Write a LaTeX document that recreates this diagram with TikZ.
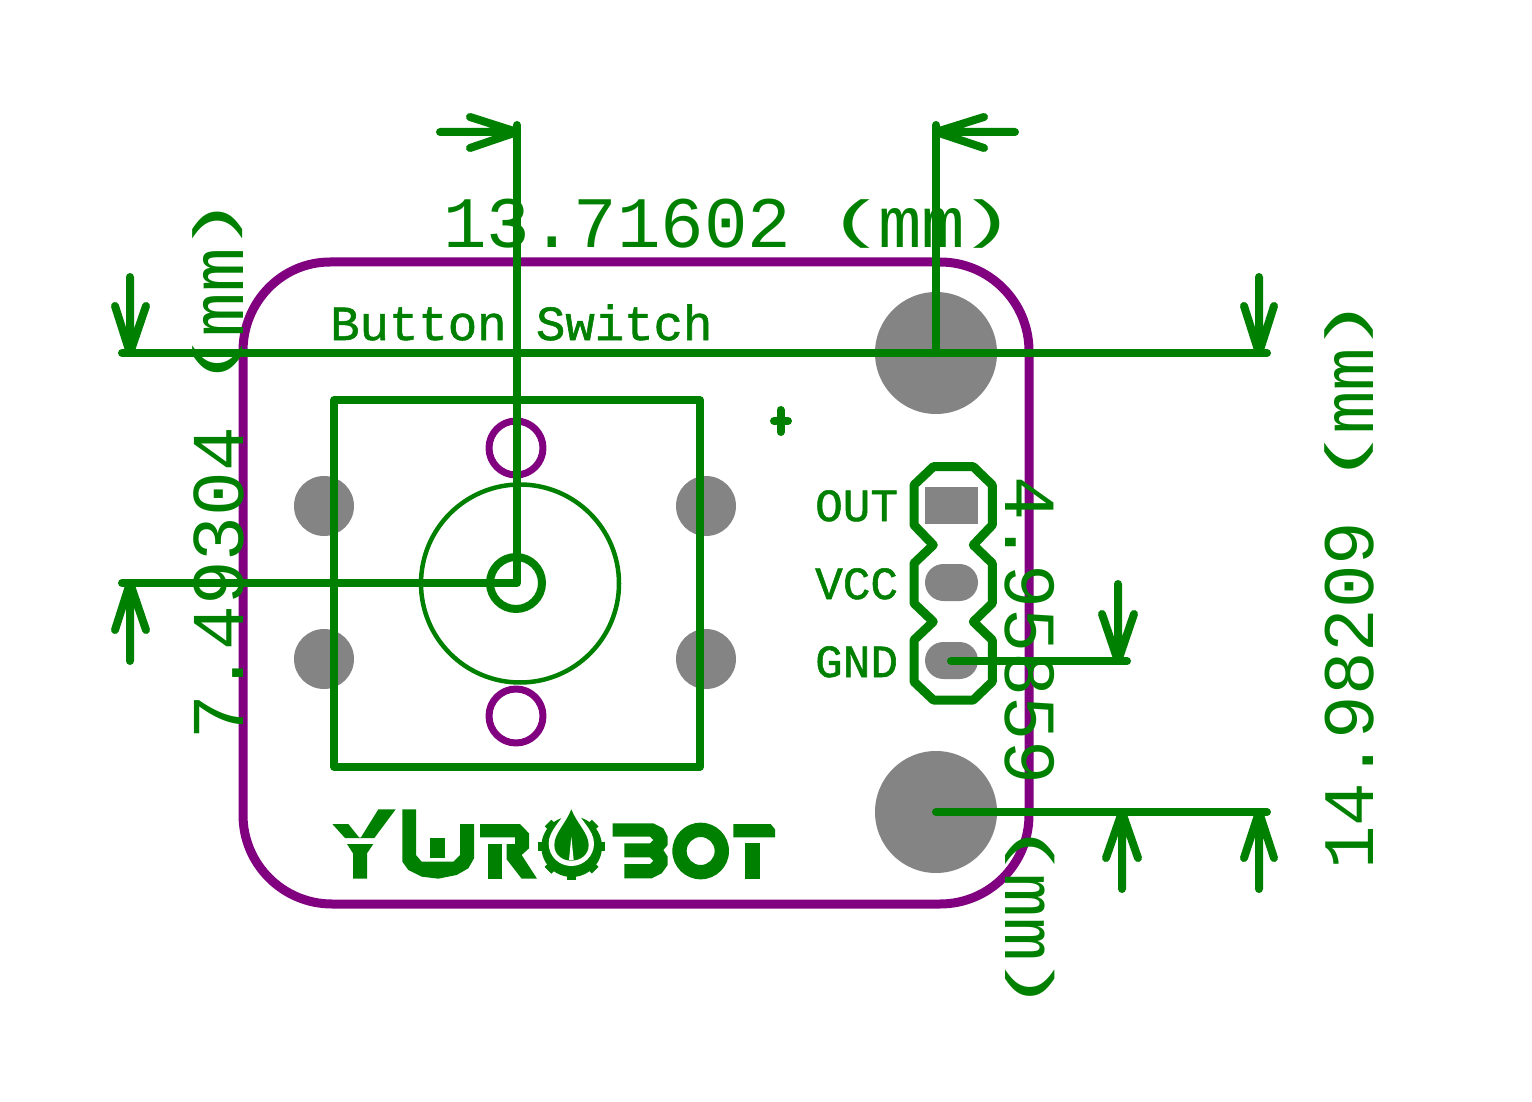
\documentclass[tikz,border=0pt]{standalone}
\usepackage{fontspec}
\usepackage{graphicx}
\setmainfont{Liberation Mono}
\newfontfamily\silkfont[FakeBold=1.2]{Liberation Mono}
\newcommand{\lpar}{\makebox[0.6em]{\raisebox{0.15em}{\scalebox{1.35}[0.72]{(}}}}
\newcommand{\rpar}{\makebox[0.6em]{\raisebox{0.15em}{\scalebox{1.35}[0.72]{)}}}}
\definecolor{pcbgreen}{HTML}{008000}
\definecolor{pcbpurple}{HTML}{800080}
\definecolor{pcbgray}{HTML}{848484}
\tikzset{
  outline/.style={draw=pcbpurple,line width=9pt,line join=round},
  hole/.style={fill=pcbgray},
  wire/.style={draw=pcbgreen,line width=8pt,line cap=round,line join=round},
  silk/.style={draw=pcbgreen,line width=7.5pt,line join=round},
  logofill/.style={fill=pcbgreen},
  bigtext/.style={text=pcbgreen,inner sep=0pt,font=\fontsize{72.5pt}{72.5pt}\selectfont},
  smalltext/.style={text=pcbgreen,inner sep=0pt,font=\silkfont\fontsize{46pt}{46pt}\selectfont},
  midtext/.style={text=pcbgreen,inner sep=0pt,font=\silkfont\fontsize{49pt}{49pt}\selectfont},
}
\begin{document}
\begin{tikzpicture}[x=1pt,y=-1pt]
\useasboundingbox (0,0) rectangle (1532,1102);
\fill[white] (0,0) rectangle (1532,1102);
% board outline
\draw[outline] (330,262) -- (940,262) arc[start angle=90,end angle=0,x radius=89pt,y radius=89pt]
  -- (1029,815) arc[start angle=0,end angle=-90,x radius=89pt,y radius=89pt]
  -- (332,904) arc[start angle=-90,end angle=-180,x radius=89pt,y radius=89pt]
  -- (243,351) arc[start angle=180,end angle=90,x radius=87pt,y radius=89pt] -- cycle;
% holes
\fill[hole] (936,353) circle[radius=61pt];
\fill[hole] (936,812) circle[radius=61pt];
\foreach \hx/\hy in {324/506,706/506,324/659,706/659}{\fill[hole] (\hx,\hy) circle[radius=30pt];}
% header pads
\fill[hole] (925,487) rectangle (978,524);
\fill[hole] (943.5,564) -- (959.5,564) arc[start angle=90,end angle=-90,radius=18.5pt] -- (943.5,601) arc[start angle=270,end angle=90,radius=18.5pt] -- cycle;
\fill[hole] (943.5,642) -- (959.5,642) arc[start angle=90,end angle=-90,radius=18.5pt] -- (943.5,679) arc[start angle=270,end angle=90,radius=18.5pt] -- cycle;
% purple pads
\draw[outline,line width=7pt] (516,448) circle[radius=27pt];
\draw[outline,line width=7pt] (516,716) circle[radius=27pt];
% switch body
\draw[silk] (334,400) rectangle (700,767);
\draw[draw=pcbgreen,line width=4.5pt] (520,583.5) circle[radius=99pt];
\draw[draw=pcbgreen,line width=8pt] (516,583) circle[radius=26pt];
% plus mark
\draw[wire] (774,421) -- (788,421);
\draw[wire,line width=8pt] (780.5,410) -- (780.5,432);
% header outline
\draw[wire,line width=9pt] (933.3,466.7) -- (973.3,466.7) -- (992.3,485) -- (992.3,525) -- (973.3,545) -- (992.3,563.3) -- (992.3,603.3) -- (973.3,621.7) -- (992.3,640) -- (992.3,681.7) -- (973.3,700) -- (933.3,700) -- (914,681.7) -- (914,640) -- (933.3,621.7) -- (914,603.3) -- (914,563.3) -- (933.3,545) -- (914,525) -- (914,485) -- cycle;
% logo
\begin{scope}[xshift=325pt,yshift=-800pt,x=0.33333pt,y=-0.33333pt]
\fill[logofill] (22,72) -- (70,72) -- (102,112) -- (108,112) -- (160,28) -- (212,28) -- (148,114) -- (60,114) -- cycle;
\fill[logofill] (66,132) -- (145,132) -- (126,160) -- (126,236) -- (84,236) -- (84,160) -- cycle;
\fill[logofill] (232,28) -- (273,28) -- (273,165) -- (290,185) -- (385,185) -- (405,165) -- (405,72) -- (447,72) -- (447,175) -- (430,205) -- (395,225) -- (340,236) -- (290,230) -- (250,210) -- (232,185) -- cycle;
\fill[logofill] (315,114) rectangle (360,174);
\fill[logofill] (465,72) -- (585,72) -- (612,100) -- (612,145) -- (590,165) -- (636,236) -- (590,236) -- (545,178) -- (545,132) -- (570,132) -- (570,112) -- (465,112) -- cycle;
\fill[logofill] (490,132) rectangle (530,236);
\end{scope}
\begin{scope}[xshift=530pt,yshift=-800pt,x=0.33333pt,y=-0.33333pt]
% gear
\fill[logofill] (125,140) circle[radius=91pt*0.33333];
\foreach \ang in {0,45,135,180,225,270,315,-135}{
  \fill[logofill,shift={(125,140)},rotate=\ang] (70,-14) rectangle (100,14);
}
\fill[white] (124,8) .. controls (150,60) and (192,90) .. (192,130) .. controls (192,170) and (160,198) .. (124,198) .. controls (88,198) and (56,170) .. (56,130) .. controls (56,90) and (98,60) .. (124,8) -- cycle;
\fill[logofill] (124,28) .. controls (140,70) and (176,100) .. (176,135) .. controls (176,165) and (150,182) .. (124,182) .. controls (98,182) and (73,165) .. (73,135) .. controls (73,100) and (108,70) .. (124,28) -- cycle;
\fill[white] (124,110) -- (131,180) -- (117,180) -- cycle;
% B
\fill[logofill] (248,70) -- (370,70) -- (400,85) -- (413,110) -- (413,135) -- (400,150) -- (413,170) -- (413,195) -- (395,220) -- (365,235) -- (283,235) -- (283,192) -- (360,192) -- (370,182) -- (360,172) -- (283,172) -- (283,130) -- (360,130) -- (370,120) -- (360,110) -- (248,110) -- cycle;
% O
\fill[logofill,even odd rule] (512,153) circle[radius=85pt*0.33333] (512,153) circle[radius=42pt*0.33333];
% T
\fill[logofill] (610,72) -- (722,72) -- (735,88) -- (735,112) -- (610,112) -- cycle;
\fill[logofill] (646,128) rectangle (690,236);
\end{scope}
% texts
\node[midtext,anchor=base west] (title) at (330,340) {Button Switch};
\node[smalltext,anchor=base west] (lout) at (815,521) {OUT};
\node[smalltext,anchor=base west] (lvcc) at (815,599) {VCC};
\node[smalltext,anchor=base west] (lgnd) at (815,677) {GND};
\node[bigtext,anchor=base west] (dimw) at (443,248) {13.71602 \lpar mm\rpar};
\node[bigtext,anchor=base west,rotate=90,font=\fontsize{74.5pt}{74.5pt}\selectfont] (diml) at (243,740) {7.49304 \lpar mm\rpar};
\node[bigtext,anchor=base west,rotate=90] (dimh) at (1373,870) {14.98209 \lpar mm\rpar};
\node[bigtext,anchor=base west,rotate=-90,font=\fontsize{73.5pt}{73.5pt}\selectfont] (dimm) at (1005,476) {4.95859 \lpar mm\rpar};
% dimension lines
\coordinate (a1) at (517,125); \coordinate (a2) at (517,583); \coordinate (a3) at (122,583);
\coordinate (b1) at (936,125); \coordinate (b2) at (936,353);
\coordinate (c1) at (122,353); \coordinate (c2) at (1267,353);
\coordinate (d1) at (936,812); \coordinate (d2) at (1267,812);
\coordinate (e1) at (951,661); \coordinate (e2) at (1127,661);
\draw[wire] (a1) -- (a2) -- (a3);
\draw[wire] (b1) -- (b2);
\draw[wire] (c1) -- (c2);
\draw[wire] (d1) -- (d2);
\draw[wire] (e1) -- (e2);
% arrowheads
\draw[wire] (440,132) -- (517,132) (470,117) -- (517,132) -- (470,148);
\draw[wire] (1015,132) -- (936,132) (984,117) -- (936,132) -- (984,148);
\draw[wire] (130,277) -- (130,353) (115,306) -- (130,353) -- (146,306);
\draw[wire] (1259,277) -- (1259,353) (1244,306) -- (1259,353) -- (1274,306);
\draw[wire] (130,661) -- (130,583) (115,630) -- (130,583) -- (146,630);
\draw[wire] (1118,584) -- (1118,661) (1102,614) -- (1118,661) -- (1134,614);
\draw[wire] (1122,889) -- (1122,812) (1106,858) -- (1122,812) -- (1138,858);
\draw[wire] (1259,889) -- (1259,812) (1244,858) -- (1259,812) -- (1274,858);
\end{tikzpicture}
\end{document}
